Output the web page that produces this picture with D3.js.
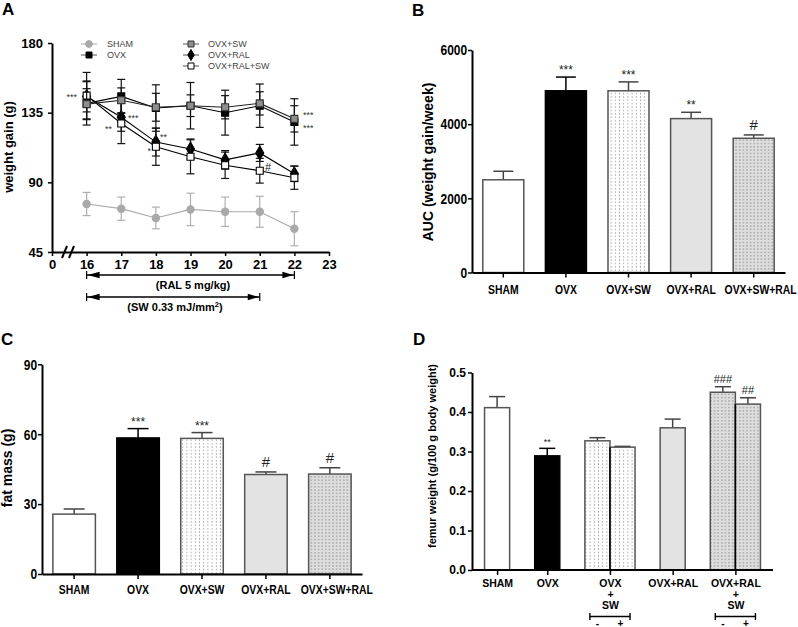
<!DOCTYPE html>
<html><head><meta charset="utf-8">
<script src="https://cdn.jsdelivr.net/npm/d3@7"></script>
<style>
body{margin:0;background:#fff}
svg{display:block}
text{font-family:"Liberation Sans",Arial,sans-serif}
</style></head><body>
<svg id="chart" width="798" height="627"></svg>
<script>
// ---------- DATA ----------
// Panel A: weekly weight gain
const weeksA = [16, 17, 18, 19, 20, 21, 22];
const xTicksA = [15, 16, 17, 18, 19, 20, 21, 22, 23];
const xTickLabelsA = ["0", "16", "17", "18", "19", "20", "21", "22", "23"];
const yTicksA = [45, 90, 135, 180];
const shamMean = [76, 73, 67, 72.5, 71, 71, 60];
const shamErr = [7.5, 7.5, 7, 10.5, 9.5, 10, 11];
const ovxMean = [141, 145.5, 138, 139.5, 135, 139.5, 129];
const ovxErr = [14, 11, 15, 15, 14.5, 14, 15];
const ovxSwMean = [140.5, 143, 138.5, 139.5, 138.5, 141, 131];
const ovxSwErr = [10, 8, 9, 7, 7.5, 7.5, 8.5];
const ovxRalMean = [145.5, 132, 116, 111.5, 104.5, 109, 95.5];
const ovxRalErr = [10, 9, 9, 6.5, 6, 5.5, 5];
const ovxRalSwMean = [146, 128, 113, 106.5, 101, 97.5, 93];
const ovxRalSwErr = [15, 13, 12, 11, 8.5, 8, 7.5];
const legendA = ["SHAM", "OVX", "OVX+SW", "OVX+RAL", "OVX+RAL+SW"];

// Panel B: AUC
const groupsB = ["SHAM", "OVX", "OVX+SW", "OVX+RAL", "OVX+SW+RAL"];
const aucMean = [2500, 4900, 4900, 4150, 3620];
const aucErr = [230, 370, 240, 170, 90];
const aucMarks = ["", "***", "***", "**", "#"];
const yTicksB = [0, 2000, 4000, 6000];

// Panel C: fat mass
const groupsC = ["SHAM", "OVX", "OVX+SW", "OVX+RAL", "OVX+SW+RAL"];
const fatMean = [25.7, 58.4, 58.2, 42.7, 42.9];
const fatErr = [2.2, 4, 2.5, 1.1, 2.7];
const fatMarks = ["", "***", "***", "#", "#"];
const yTicksC = [0, 30, 60, 90];

// Panel D: femur weight
const barsD = ["SHAM", "OVX", "OVX+SW -", "OVX+SW +", "OVX+RAL", "OVX+RAL+SW -", "OVX+RAL+SW +"];
const femurMean = [0.411, 0.289, 0.327, 0.311, 0.360, 0.450, 0.420];
const femurErr = [0.028, 0.019, 0.008, 0.002, 0.022, 0.014, 0.016];
const femurMarks = ["", "**", "", "", "", "###", "##"];
const groupsD = [["SHAM"], ["OVX"], ["OVX", "+", "SW"], ["OVX+RAL"], ["OVX+RAL", "+", "SW"]];
const yTicksD = [0, 0.1, 0.2, 0.3, 0.4, 0.5];

// ---------- DRAWING ----------
const svg = d3.select("#chart");
const defs = svg.append("defs");
function dotPattern(id, bg, dot, w, h, r) {
  const p = defs.append("pattern").attr("id", id).attr("patternUnits", "userSpaceOnUse")
    .attr("width", w).attr("height", h);
  p.append("rect").attr("width", w).attr("height", h).attr("fill", bg);
  p.append("circle").attr("cx", w / 2).attr("cy", h / 2).attr("r", r).attr("fill", dot);
}
dotPattern("dotsLight", "#ffffff", "#7a7a7a", 4.2, 3.4, 0.55);
dotPattern("dotsGray", "#dedede", "#666666", 3.6, 3.3, 0.6);

const barStyle = {
  "SHAM": {fill: "#ffffff", stroke: "#555"},
  "OVX": {fill: "#000000", stroke: "#000"},
  "OVX+SW": {fill: "url(#dotsLight)", stroke: "#555"},
  "OVX+RAL": {fill: "#e3e3e3", stroke: "#555"},
  "OVX+SW+RAL": {fill: "url(#dotsGray)", stroke: "#555"}
};
const CONDENSE = "scale(0.77,1)";

function styleAxis(g, tickW) {
  g.select(".domain").attr("stroke", "#000").attr("stroke-width", 2);
  g.selectAll(".tick line").attr("stroke", "#000").attr("stroke-width", tickW || 1.5);
  g.selectAll(".tick text").attr("fill", "#000");
}

function panelLetter(x, y, t) {
  svg.append("text").attr("x", x).attr("y", y).attr("font-size", 17).attr("font-weight", "bold").text(t);
}

function yLabel(x, y, t, size, weight) {
  svg.append("text").attr("transform", `translate(${x},${y}) rotate(-90)`)
    .attr("text-anchor", "middle").attr("font-size", size).attr("font-weight", weight || "bold").text(t);
}

function drawBars(g, keys, x, bw, y, means, errs, styles, capW, marks, markSize, markGap) {
  keys.forEach((k, i) => {
    const st = styles[i];
    const x0 = x(k), top = y(means[i]), base = y(0);
    const et = y(means[i] + errs[i]);
    const ec = st.stroke === "#000" ? "#000" : "#444";
    g.append("line").attr("x1", x0 + bw / 2).attr("x2", x0 + bw / 2).attr("y1", top).attr("y2", et)
      .attr("stroke", ec).attr("stroke-width", 1.5);
    g.append("line").attr("x1", x0 + bw / 2 - capW / 2).attr("x2", x0 + bw / 2 + capW / 2).attr("y1", et).attr("y2", et)
      .attr("stroke", ec).attr("stroke-width", 1.5);
    g.append("rect").attr("x", x0).attr("y", top).attr("width", bw).attr("height", base - top)
      .attr("fill", st.fill).attr("stroke", st.stroke).attr("stroke-width", 1.5);
    if (marks[i]) {
      const isHash = marks[i][0] === "#";
      g.append("text").attr("x", x0 + bw / 2).attr("y", et - (isHash ? markGap.hash : markGap.star))
        .attr("text-anchor", "middle").attr("font-size", isHash ? markSize.hash : markSize.star)
        .attr("fill", "#222").text(marks[i]);
    }
  });
}

// ===== Panel A =====
panelLetter(2, 15, "A");
const xA = d3.scaleLinear().domain([15, 23]).range([52, 329]);
const yA = d3.scaleLinear().domain([45, 180]).range([252, 43]);
const gA = svg.append("g");
const axYA = gA.append("g").attr("transform", `translate(${xA(15)},0)`)
  .call(d3.axisLeft(yA).tickValues(yTicksA).tickSize(4).tickSizeOuter(0).tickPadding(5));
axYA.selectAll(".tick text").attr("font-size", 13).attr("font-weight", "bold");
styleAxis(axYA);
const axXA = gA.append("g").attr("transform", `translate(0,${yA(45)})`)
  .call(d3.axisBottom(xA).tickValues(xTicksA).tickFormat((d, i) => xTickLabelsA[i]).tickSize(4).tickSizeOuter(0).tickPadding(4));
axXA.selectAll(".tick text").attr("font-size", 13).attr("font-weight", "bold");
styleAxis(axXA);
[62, 69].forEach(bx => {
  gA.append("line").attr("x1", bx).attr("y1", yA(45) + 6).attr("x2", bx + 5).attr("y2", yA(45) - 6)
    .attr("stroke", "#000").attr("stroke-width", 2);
});
yLabel(13, 147, "weight gain (g)", 13);

const seriesA = [
  {name: "SHAM", mean: shamMean, err: shamErr, sym: d3.symbolCircle, size: 42, fill: "#a9a9a9", stroke: "#a9a9a9", line: "#a9a9a9", eb: "#b0b0b0"},
  {name: "OVX", mean: ovxMean, err: ovxErr, sym: d3.symbolSquare, size: 49, fill: "#000", stroke: "#000", line: "#000", eb: "#111"},
  {name: "OVX+RAL", mean: ovxRalMean, err: ovxRalErr, sym: d3.symbolDiamond, size: 55, fill: "#000", stroke: "#000", line: "#000", eb: "#111"},
  {name: "OVX+RAL+SW", mean: ovxRalSwMean, err: ovxRalSwErr, sym: d3.symbolSquare, size: 49, fill: "#fff", stroke: "#000", line: "#000", eb: "#111"},
  {name: "OVX+SW", mean: ovxSwMean, err: ovxSwErr, sym: d3.symbolSquare, size: 49, fill: "#8e8e8e", stroke: "#333", line: "#222", eb: "#111"}
];
seriesA.forEach(s => {
  const g = gA.append("g");
  weeksA.forEach((w, i) => {
    const cx = xA(w), t = yA(s.mean[i] + s.err[i]), b = yA(s.mean[i] - s.err[i]);
    g.append("line").attr("x1", cx).attr("x2", cx).attr("y1", t).attr("y2", b).attr("stroke", s.eb).attr("stroke-width", 1.2);
    [t, b].forEach(yy => g.append("line").attr("x1", cx - 4).attr("x2", cx + 4).attr("y1", yy).attr("y2", yy)
      .attr("stroke", s.eb).attr("stroke-width", 1.2));
  });
  g.append("path").datum(weeksA.map((w, i) => [w, s.mean[i]]))
    .attr("d", d3.line().x(d => xA(d[0])).y(d => yA(d[1])))
    .attr("fill", "none").attr("stroke", s.line).attr("stroke-width", 1.1);
  weeksA.forEach((w, i) => {
    g.append("path").attr("d", d3.symbol(s.sym, s.size)())
      .attr("transform", `translate(${xA(w)},${yA(s.mean[i])})`)
      .attr("fill", s.fill).attr("stroke", s.stroke).attr("stroke-width", 1.1);
  });
});
const marksA = [
  {t: "***", x: 77, y: 100, a: "end"},
  {t: "***", x: 128, y: 121, a: "start"},
  {t: "**", x: 112, y: 132, a: "end"},
  {t: "**", x: 160, y: 140, a: "start"},
  {t: "*", x: 151, y: 154, a: "end"},
  {t: "***", x: 303, y: 118, a: "start"},
  {t: "***", x: 303, y: 131, a: "start"}
];
marksA.forEach(m => gA.append("text").attr("x", m.x).attr("y", m.y).attr("text-anchor", m.a)
  .attr("font-size", 9).attr("fill", "#333").text(m.t));
gA.append("text").attr("x", 265).attr("y", 171).attr("font-size", 11).attr("fill", "#222").text("#");

const legPos = [[89, 107, 44], [89, 107, 55], [191, 208, 44], [191, 208, 55], [191, 208, 66]];
legendA.forEach((name, i) => {
  const s = seriesA.find(d => d.name === name);
  const [mx, tx, ly] = legPos[i];
  gA.append("line").attr("x1", mx - 8).attr("x2", mx + 8).attr("y1", ly).attr("y2", ly)
    .attr("stroke", name === "SHAM" ? "#a9a9a9" : "#555").attr("stroke-width", 1);
  gA.append("path").attr("d", d3.symbol(s.sym, 36)()).attr("transform", `translate(${mx},${ly})`)
    .attr("fill", s.fill).attr("stroke", s.stroke).attr("stroke-width", 1);
  gA.append("text").attr("x", tx).attr("y", ly + 3.3).attr("font-size", 9).attr("fill", "#444").text(name);
});

function arrow(x1, x2, y) {
  gA.append("line").attr("x1", x1).attr("x2", x2).attr("y1", y).attr("y2", y).attr("stroke", "#000").attr("stroke-width", 1.4);
  [x1, x2].forEach(xx => gA.append("line").attr("x1", xx).attr("x2", xx).attr("y1", y - 4).attr("y2", y + 4)
    .attr("stroke", "#000").attr("stroke-width", 1.2));
  gA.append("path").attr("d", `M${x1 + 1},${y} L${x1 + 13},${y - 3.2} L${x1 + 13},${y + 3.2} Z`).attr("fill", "#000");
  gA.append("path").attr("d", `M${x2 - 1},${y} L${x2 - 12},${y - 3.2} L${x2 - 12},${y + 3.2} Z`).attr("fill", "#000");
}
arrow(xA(16), xA(22), 275);
arrow(xA(16), xA(21), 297);
gA.append("text").attr("x", 193).attr("y", 289).attr("text-anchor", "middle").attr("font-size", 11).attr("font-weight", "bold")
  .text("(RAL 5 mg/kg)");
const swT = gA.append("text").attr("x", 175).attr("y", 311).attr("text-anchor", "middle").attr("font-size", 11).attr("font-weight", "bold");
swT.append("tspan").text("(SW 0.33 mJ/mm");
swT.append("tspan").attr("font-size", 7.5).attr("dy", -4).text("2");
swT.append("tspan").attr("dy", 4).text(")");

// shift of the last (longest) category label, as in the original figure
function shiftLast(ax, n) {
  ax.selectAll(".tick text").filter((d, i) => i === n - 1).attr("dx", 9);
}

// ===== Panel B =====
panelLetter(412, 16, "B");
const xB = d3.scaleBand().domain(groupsB).range([472, 785]).paddingInner(0.345).paddingOuter(0.1725);
const yB = d3.scaleLinear().domain([0, 6000]).range([272.5, 50]);
const gB = svg.append("g");
drawBars(gB, groupsB, xB, xB.bandwidth(), yB, aucMean, aucErr, groupsB.map(k => barStyle[k]), 20, aucMarks,
  {star: 12, hash: 15}, {star: 3, hash: 5});
const axYB = gB.append("g").attr("transform", `translate(472,0)`)
  .call(d3.axisLeft(yB).tickValues(yTicksB).tickFormat(d3.format("d")).tickSize(4).tickSizeOuter(0).tickPadding(2));
axYB.selectAll(".tick text").attr("font-size", 15).attr("font-weight", "bold").attr("transform", "scale(0.8,1)");
styleAxis(axYB);
const axXB = gB.append("g").attr("transform", `translate(0,272.5)`)
  .call(d3.axisBottom(xB).tickSize(5).tickSizeOuter(0).tickPadding(7));
axXB.selectAll(".tick text").attr("font-size", 13.5).attr("font-weight", "bold").attr("transform", CONDENSE);
shiftLast(axXB, groupsB.length);
styleAxis(axXB);
yLabel(433, 162, "AUC (weight gain/week)", 14);

// ===== Panel C =====
panelLetter(1, 345, "C");
const xC = d3.scaleBand().domain(groupsC).range([42, 362]).paddingInner(0.335).paddingOuter(0.17);
const yC = d3.scaleLinear().domain([0, 90]).range([574, 364.3]);
const gC = svg.append("g");
drawBars(gC, groupsC, xC, xC.bandwidth(), yC, fatMean, fatErr, groupsC.map(k => barStyle[k]), 21, fatMarks,
  {star: 12, hash: 15}, {star: 3, hash: 5});
const axYC = gC.append("g").attr("transform", `translate(42,0)`)
  .call(d3.axisLeft(yC).tickValues(yTicksC).tickSize(4).tickSizeOuter(0).tickPadding(2));
axYC.selectAll(".tick text").attr("font-size", 15).attr("font-weight", "bold").attr("transform", "scale(0.8,1)");
styleAxis(axYC);
const axXC = gC.append("g").attr("transform", `translate(0,574)`)
  .call(d3.axisBottom(xC).tickSize(5).tickSizeOuter(0).tickPadding(5));
axXC.selectAll(".tick text").attr("font-size", 13.5).attr("font-weight", "bold").attr("transform", CONDENSE);
shiftLast(axXC, groupsC.length);
styleAxis(axXC);
yLabel(12, 468, "fat mass (g)", 14);

// ===== Panel D =====
panelLetter(413, 345, "D");
const slotD = [0, 2, 4, 5, 7, 9, 10];          // layout slot of each bar
const groupSlotD = [[0], [2], [4, 5], [7], [9, 10]];
const xD = d3.scaleBand().domain(d3.range(11)).range([472, 773]).paddingInner(0).paddingOuter(0.5);
const bwD = xD.bandwidth();
const yD = d3.scaleLinear().domain([0, 0.5]).range([570, 372.5]);
const gD = svg.append("g");
const stylesD = [barStyle["SHAM"], barStyle["OVX"], barStyle["OVX+SW"], barStyle["OVX+SW"], barStyle["OVX+RAL"], barStyle["OVX+SW+RAL"], barStyle["OVX+SW+RAL"]];
const xDbar = k => xD(slotD[barsD.indexOf(k)]);
drawBars(gD, barsD, xDbar, bwD, yD, femurMean, femurErr, stylesD, 16, femurMarks,
  {star: 9, hash: 11}, {star: 3, hash: 4});
[3, 6].forEach(i => {
  const xx = xD(slotD[i]);
  gD.append("line").attr("x1", xx).attr("x2", xx).attr("y1", yD(Math.min(femurMean[i - 1], femurMean[i]))).attr("y2", yD(0))
    .attr("stroke", "#000").attr("stroke-width", 1.5);
});
const axYD = gD.append("g").attr("transform", `translate(472,0)`)
  .call(d3.axisLeft(yD).tickValues(yTicksD).tickFormat(d3.format(".1f")).tickSize(4).tickSizeOuter(0).tickPadding(2));
axYD.selectAll(".tick text").attr("font-size", 12).attr("font-weight", "bold");
styleAxis(axYD);
const groupPosD = groupSlotD.map(s => s.length === 1 ? xD(s[0]) + bwD / 2 : xD(s[1]));
const xDgroups = d3.scaleOrdinal().domain(d3.range(groupsD.length)).range(groupPosD);
gD.append("line").attr("x1", 472).attr("x2", 773).attr("y1", 570).attr("y2", 570).attr("stroke", "#000").attr("stroke-width", 2);
const axXD = gD.append("g").attr("transform", `translate(0,570)`)
  .call(d3.axisBottom(xDgroups).tickSize(5).tickSizeOuter(0).tickPadding(7).tickFormat(""));
axXD.select(".domain").remove();
styleAxis(axXD);
axXD.selectAll(".tick").each(function (d) {
  const t = d3.select(this).append("text").attr("fill", "#000").attr("font-size", 10.5).attr("font-weight", "bold")
    .attr("text-anchor", "middle").attr("y", 16.5);
  groupsD[d].forEach((line, j) => t.append("tspan").attr("x", 0).attr("dy", j === 0 ? 0 : 11.3).text(line));
});
[[4, 5], [9, 10]].forEach(([a, b]) => {
  const x1 = xD(a) + 5, x2 = xD(b) + bwD - 5, yy = 616.5;
  gD.append("line").attr("x1", x1).attr("x2", x2).attr("y1", yy).attr("y2", yy).attr("stroke", "#000").attr("stroke-width", 1.4);
  [x1, x2].forEach(xx => gD.append("line").attr("x1", xx).attr("x2", xx).attr("y1", yy - 3.5).attr("y2", yy + 3.5)
    .attr("stroke", "#000").attr("stroke-width", 1.4));
  gD.append("text").attr("x", xD(a) + bwD / 2).attr("y", 626.5).attr("text-anchor", "middle").attr("font-size", 10).attr("font-weight", "bold").text("-");
  gD.append("text").attr("x", xD(b) + bwD / 2 - 2).attr("y", 626.5).attr("text-anchor", "middle").attr("font-size", 10).attr("font-weight", "bold").text("+");
});
yLabel(436, 456, "femur weight (g/100 g body weight)", 11);
</script></body></html>
